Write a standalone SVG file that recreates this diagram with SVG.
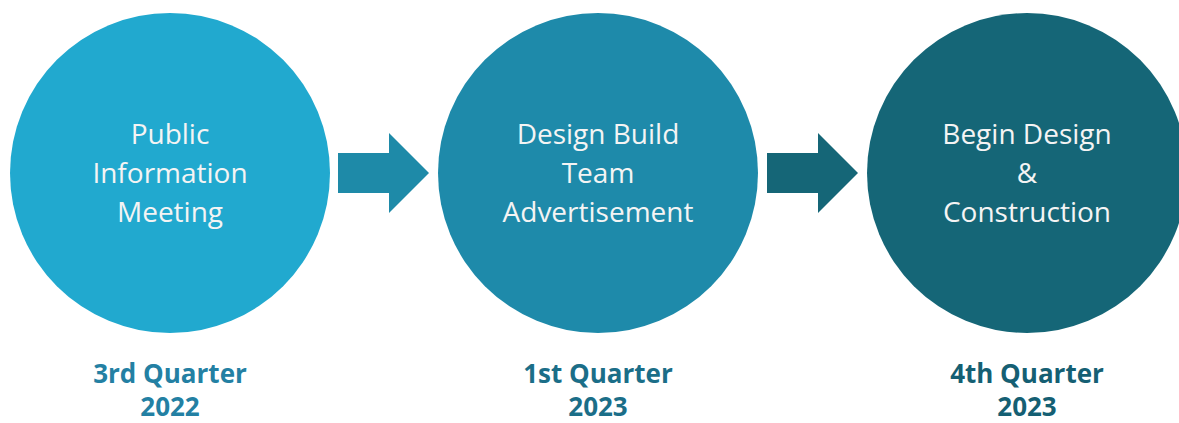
<svg xmlns="http://www.w3.org/2000/svg" width="1179" height="423" viewBox="0 0 1179 423">
<style>
.in{font-family:"Open Sans","Noto Sans",sans-serif;font-size:28px;fill:#F4F4F4;text-anchor:middle}
.q{font-family:"Open Sans","Noto Sans",sans-serif;font-size:26px;font-weight:bold;text-anchor:middle}
</style>
<rect width="1179" height="423" fill="#FFFFFF"/>
<g id="node1">
<circle cx="170" cy="173" r="160" fill="#21A9CF"/>
<text class="in" x="170" y="144">Public</text>
<text class="in" x="170" y="183">Information</text>
<text class="in" x="170" y="222">Meeting</text>
<text class="q" x="170" y="383" fill="#2380A3">3rd Quarter</text>
<text class="q" x="170" y="416" fill="#2380A3">2022</text>
</g>
<g id="node2">
<circle cx="598" cy="173" r="160" fill="#1E8AAA"/>
<text class="in" x="598" y="144">Design Build</text>
<text class="in" x="598" y="183">Team</text>
<text class="in" x="598" y="222">Advertisement</text>
<text class="q" x="598" y="383" fill="#1B6E88">1st Quarter</text>
<text class="q" x="598" y="416" fill="#1B6E88">2023</text>
</g>
<g id="node3">
<circle cx="1027" cy="173" r="160" fill="#156677"/>
<text class="in" x="1027" y="144">Begin Design</text>
<text class="in" x="1027" y="183">&amp;</text>
<text class="in" x="1027" y="222">Construction</text>
<text class="q" x="1027" y="383" fill="#155F73">4th Quarter</text>
<text class="q" x="1027" y="416" fill="#155F73">2023</text>
</g>
<g id="connectors">
<polygon points="338,153 389,153 389,133 429,173 389,213 389,193 338,193" fill="#1E8AA8"/>
<polygon points="767,153 818,153 818,133 858,173 818,213 818,193 767,193" fill="#156677"/>
</g>
</svg>
